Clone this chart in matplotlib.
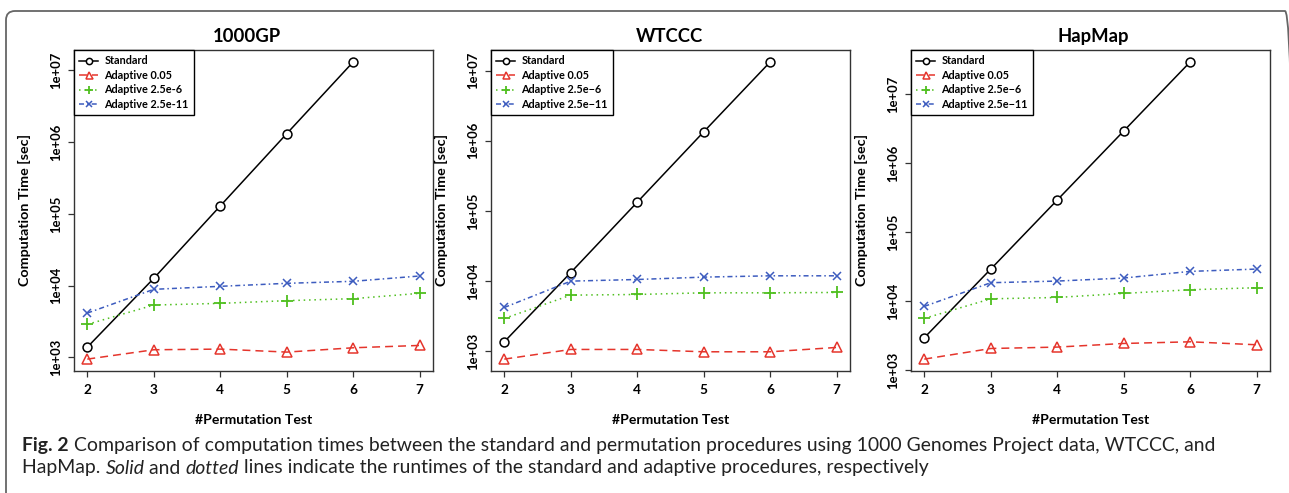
import numpy as np
import matplotlib
matplotlib.use("Agg")
import matplotlib.pyplot as plt
from matplotlib.patches import FancyBboxPatch

plt.rcParams['font.family'] = ['Lato', 'DejaVu Sans']

permutations = [2, 3, 4, 5, 6, 7]
panel_titles = ["1000GP", "WTCCC", "HapMap"]

# standard procedure only goes up to 6 permutations
standard_1000gp = [1390, 12650, 129000, 1.31e6, 1.31e7]
adaptive005_1000gp = [948, 1280, 1307, 1187, 1364, 1470]
adaptive25e6_1000gp = [2885, 5370, 5670, 6180, 6590, 7820]
adaptive25e11_1000gp = [4150, 8890, 9790, 10780, 11500, 13640]

standard_wtccc = [1358, 13200, 133000, 1.34e6, 1.33e7]
adaptive005_wtccc = [769, 1056, 1056, 978, 978, 1128]
adaptive25e6_wtccc = [2920, 6280, 6420, 6780, 6780, 6860]
adaptive25e11_wtccc = [4190, 9950, 10500, 11350, 11850, 11850]

standard_hapmap = [2975, 29400, 294000, 2.94e6, 2.94e7]
adaptive005_hapmap = [1460, 2080, 2180, 2460, 2600, 2355]
adaptive25e6_hapmap = [5670, 10900, 11400, 13060, 14760, 15780]
adaptive25e11_hapmap = [8470, 18650, 19700, 21800, 27200, 29400]

legend_labels_hyphen = ["Standard", "Adaptive 0.05", "Adaptive 2.5e-6", "Adaptive 2.5e-11"]
legend_labels_minus = ["Standard", "Adaptive 0.05", "Adaptive 2.5e\u22126", "Adaptive 2.5e\u221211"]

panels = [
    (standard_1000gp, adaptive005_1000gp, adaptive25e6_1000gp, adaptive25e11_1000gp, legend_labels_hyphen),
    (standard_wtccc, adaptive005_wtccc, adaptive25e6_wtccc, adaptive25e11_wtccc, legend_labels_minus),
    (standard_hapmap, adaptive005_hapmap, adaptive25e6_hapmap, adaptive25e11_hapmap, legend_labels_minus),
]

RED = '#e5352c'
GREEN = '#4fbf1f'
BLUE = '#3d5cbf'

W, H = 1289, 493
fig = plt.figure(figsize=(W / 100, H / 100), dpi=100)
renderer = fig.canvas.get_renderer()


def fit_size(text, target_px, **kw):
    # font size that makes `text` about target_px wide
    t = fig.text(0, 0, text, fontsize=10, **kw)
    w = t.get_window_extent(renderer).width
    t.remove()
    return 10 * target_px / w


title_fs = fit_size("1000GP", 68, fontweight='bold')
xlabel_fs = fit_size("#Permutation Test", 117, fontweight='bold')
ylabel_fs = fit_size("Computation Time [sec]", 152, fontweight='bold')
ytick_fs = fit_size("1e+07", 37, fontweight='bold')
legend_fs = fit_size("Adaptive 2.5e-11", 84, fontweight='bold')
cap_size = fit_size("Fig. 2 Comparison of computation times between the standard and permutation "
                    "procedures using 1000 Genomes Project data, WTCCC, and", 1196)

# journal page frame (rounded box, cut by the image edge), drawn in inches
frame = FancyBboxPatch((0.06, -0.1), 12.88, (H - 11) / 100 + 0.1,
                       boxstyle="round,pad=0,rounding_size=0.09",
                       transform=fig.dpi_scale_trans, fill=False,
                       edgecolor='#666666', lw=1.3)
fig.patches.append(frame)

ax_lefts = [74, 491, 911]
title_shift = [-7, -1, 3]   # px, the titles are not exactly centred
ax_w = 359
ax_top, ax_bot = 50, 371

for i, (std, a005, a6, a11, labels) in enumerate(panels):
    left = ax_lefts[i]
    ax = fig.add_axes([left / W, 1 - ax_bot / H, ax_w / W, (ax_bot - ax_top) / H])

    ax.plot(permutations[:len(std)], std, color='black', lw=1.1, marker='o',
            ms=6.4, mfc='white', mec='black', mew=1.1, label=labels[0])
    ax.plot(permutations, a005, color=RED, lw=1.1, marker='^', ms=7.2,
            mfc='none', mec=RED, mew=1.1, dashes=(5.2, 3.3), label=labels[1])
    ax.plot(permutations, a6, color=GREEN, lw=1.1, marker='+', ms=8,
            mew=1.3, dashes=(1, 2.5), label=labels[2])
    ax.plot(permutations, a11, color=BLUE, lw=1.1, marker='x', ms=6.2,
            mew=1.1, dashes=(3.3, 2, 1, 2), label=labels[3])

    ax.set_yscale('log')
    # R style axis range: 4% padding around the data
    logs = np.log10(np.concatenate([std, a005, a6, a11]))
    lo, hi = logs.min(), logs.max()
    pad = 0.04 * (hi - lo)
    ax.set_ylim(10 ** (lo - pad), 10 ** (hi + pad))
    ax.set_xlim(1.8, 7.2)

    ax.set_xticks(permutations)
    ax.set_xticklabels([str(p) for p in permutations], fontweight='bold', fontsize=ytick_fs * 1.05)
    yt = [1e3, 1e4, 1e5, 1e6, 1e7]
    ax.set_yticks(yt)
    ax.set_yticklabels(["1e+03", "1e+04", "1e+05", "1e+06", "1e+07"],
                       fontweight='bold', fontsize=ytick_fs, rotation=90, va='center')
    ax.yaxis.set_minor_locator(matplotlib.ticker.NullLocator())
    ax.tick_params(axis='both', direction='out', length=4.5, width=0.9, color='#333333')
    ax.tick_params(axis='x', pad=5)
    ax.tick_params(axis='y', pad=4)
    for sp in ax.spines.values():
        sp.set_color('#333333')
        sp.set_linewidth(1.0)

    ax.set_title(panel_titles[i], fontsize=title_fs, fontweight='bold', pad=6)
    ax.title.set_x(0.5 + title_shift[i] / ax_w)
    ax.set_xlabel("#Permutation Test", fontsize=xlabel_fs, fontweight='bold')
    ax.set_ylabel("Computation Time [sec]", fontsize=ylabel_fs, fontweight='bold')
    ax.xaxis.set_label_coords(0.5, -43 / (ax_bot - ax_top))
    ax.yaxis.set_label_coords(-43 / ax_w, 0.5)

    leg = ax.legend(loc='upper left', borderaxespad=0, fancybox=False, framealpha=1,
                    edgecolor='black', prop={'weight': 'bold', 'size': legend_fs},
                    handlelength=1.7, handletextpad=0.6, labelspacing=0.32,
                    borderpad=0.5, markerscale=0.7)
    leg.get_frame().set_linewidth(1.0)

# caption, built piece by piece so bold / italic runs sit inline
fig.canvas.draw()
cap_color = '#222222'


def put_runs(runs, x0, y):
    x = x0
    for txt, style in runs:
        kw = {}
        if style == 'b':
            kw['fontweight'] = 'bold'
        elif style == 'i':
            kw['fontstyle'] = 'italic'
        t = fig.text(x / W, 1 - y / H, txt, fontsize=cap_size, color=cap_color,
                     va='center', ha='left', **kw)
        bb = t.get_window_extent(renderer)
        x += bb.width


put_runs([("Fig. 2", 'b'),
          (" Comparison of computation times between the standard and permutation procedures "
           "using 1000 Genomes Project data, WTCCC, and", 'n')], 22, 445)
put_runs([("HapMap. ", 'n'), ("Solid", 'i'), (" and ", 'n'), ("dotted", 'i'),
          (" lines indicate the runtimes of the standard and adaptive procedures, respectively", 'n')],
         22, 468)

fig.savefig("out.png", dpi=100)
